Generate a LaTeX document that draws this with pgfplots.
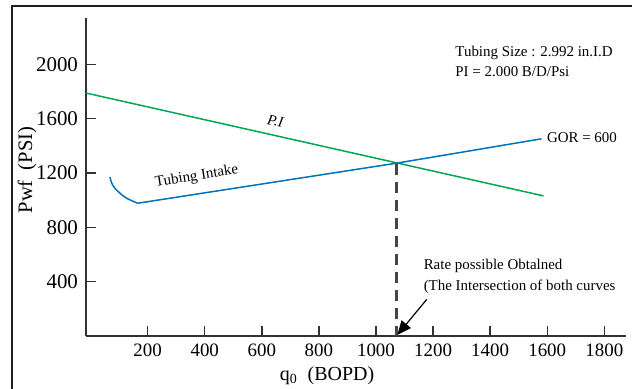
\documentclass[border=0pt]{standalone}
\usepackage{fontspec}
\setmainfont{Liberation Serif}
\usepackage{pgfplots}
\pgfplotsset{compat=1.18}
\usetikzlibrary{arrows.meta}
\definecolor{piGreen}{RGB}{0,166,81}
\definecolor{tiBlue}{RGB}{0,114,188}
\definecolor{axcol}{RGB}{50,50,50}
\definecolor{framecol}{RGB}{35,31,32}
\definecolor{dashcol}{RGB}{70,70,70}
\begin{document}
\begin{tikzpicture}
\useasboundingbox (0,0) rectangle (316bp,194.5bp);
\draw[line width=1.4bp, framecol] (6bp,0) -- (6bp,191.5bp) -- (316bp,191.5bp);
\begin{axis}[
  at={(43bp,26.5bp)}, anchor=south west,
  scale only axis, width=270bp, height=159bp,
  xmin=-16, xmax=1876, ymin=0, ymax=2340,
  axis x line*=bottom, axis y line*=left,
  axis line style={axcol, line width=0.8bp, -},
  xtick={200,400,...,1800}, ytick={400,800,1200,1600,2000},
  tick align=inside, major tick length=5bp,
  tick style={axcol, line width=0.7bp},
  /pgf/number format/assume math mode=true,
  /pgf/number format/1000 sep={},
  xticklabel style={font=\fontsize{9.5}{11}\selectfont, yshift=-0.5bp},
  yticklabel style={font=\fontsize{10.5}{12}\selectfont, xshift=-0.5bp},
  clip=false,
]
% P.I line (IPR)
\addplot[piGreen, line width=0.75bp] coordinates {(-16,1788) (1587,1031)};
% Tubing intake curve
\addplot[tiBlue, line width=0.75bp, smooth] coordinates {(68,1169) (74,1125) (85,1088) (103,1051) (126,1014) (165,977)};
\addplot[tiBlue, line width=0.75bp] coordinates {(165,977) (1073,1272) (1580,1451)};
% intersection dashed line
\addplot[dashcol, line width=1.5bp, dash pattern=on 5.5bp off 3.5bp] coordinates {(1073,1262) (1073,0)};
% arrow
\draw[line width=0.6bp, -{Triangle[length=7bp,width=6bp]}] (axis cs:1178,270) -- (axis cs:1075,8);
% texts
\node[anchor=base west, font=\fontsize{7.5}{9}\selectfont, inner sep=0] at (axis cs:1277,2059) {Tubing Size : 2.992 in.I.D};
\node[anchor=base west, font=\fontsize{7.5}{9}\selectfont, inner sep=0] at (axis cs:1277,1906) {PI = 2.000 B/D/Psi};
\node[anchor=base west, font=\fontsize{7.5}{9}\selectfont, inner sep=0] at (axis cs:1598,1427) {GOR = 600};
\node[anchor=base west, font=\fontsize{7.5}{9}\selectfont, inner sep=0] at (axis cs:1166,491) {Rate possible Obtalned};
\node[anchor=base west, font=\fontsize{7.5}{9}\selectfont, inner sep=0] at (axis cs:1166,334) {(The Intersection of both curves};
\node[font=\fontsize{7.5}{9}\selectfont\itshape, rotate=-11, inner sep=0] at (axis cs:647,1579) {P.I};
\node[font=\fontsize{7.5}{9}\selectfont, rotate=9, inner sep=0] at (axis cs:372,1174) {Tubing Intake};
\end{axis}
\node[rotate=90, font=\fontsize{10.3}{12}\selectfont, inner sep=0] at (13.5bp,109.5bp) {Pwf\ \ (PSI)};
\node[font=\fontsize{10}{12}\selectfont, inner sep=0] at (163.5bp,6.5bp) {q\textsubscript{0}\ \ (BOPD)};
\end{tikzpicture}
\end{document}
